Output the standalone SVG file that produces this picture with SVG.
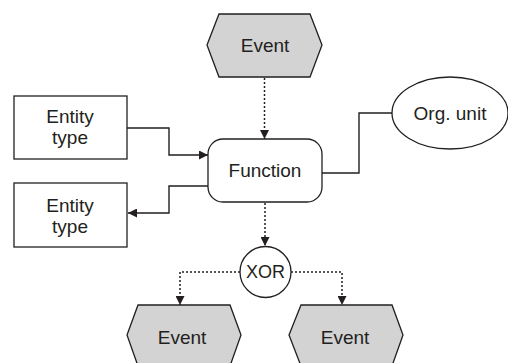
<svg xmlns="http://www.w3.org/2000/svg" width="508" height="363" viewBox="0 0 508 363">
<style>
.t{font-family:"Liberation Sans",Arial,sans-serif;font-size:19px;fill:#231f20;text-anchor:middle}
.ev{fill:#d3d3d3;stroke:#231f20;stroke-width:1.3}
.box{fill:#fff;stroke:#231f20;stroke-width:1.3}
.c{fill:none;stroke:#231f20;stroke-width:1.4}
.d{fill:none;stroke:#231f20;stroke-width:1.5;stroke-dasharray:2 2}
</style>
<defs>
<marker id="ah" viewBox="0 0 10 10" refX="10" refY="5" markerWidth="9" markerHeight="9" markerUnits="userSpaceOnUse" orient="auto">
<path d="M0,0 L10,5 L0,10 z" fill="#231f20"/>
</marker>
</defs>
<rect width="508" height="363" fill="#fff"/>
<g id="connectors">
<polyline class="c" points="127,128 169,128 169,155 208,155" marker-end="url(#ah)"/>
<polyline class="c" points="208,186 169,186 169,213 128,213" marker-end="url(#ah)"/>
<polyline class="c" points="322,173 359,173 359,113 392,113"/>
<line class="d" x1="264.5" y1="78" x2="264.5" y2="139" marker-end="url(#ah)"/>
<line class="d" x1="265" y1="203" x2="265" y2="246" marker-end="url(#ah)"/>
<polyline class="d" points="240,272 180,272 180,305" marker-end="url(#ah)"/>
<polyline class="d" points="291,272 342,272 342,305" marker-end="url(#ah)"/>
</g>
<g id="event-top">
<polygon class="ev" points="207,45 219,14 310,14 322,45 310,77 219,77"/>
<text class="t" x="265" y="52">Event</text>
</g>
<g id="entity-in">
<rect class="box" x="14" y="96" width="113" height="63"/>
<text class="t" x="70" y="123">Entity</text>
<text class="t" x="70" y="144">type</text>
</g>
<g id="entity-out">
<rect class="box" x="14" y="183" width="113" height="64"/>
<text class="t" x="70" y="212">Entity</text>
<text class="t" x="70" y="233">type</text>
</g>
<g id="function">
<rect class="box" x="208" y="139" width="114" height="63" rx="15" ry="15"/>
<text class="t" x="265" y="177">Function</text>
</g>
<g id="org-unit">
<ellipse class="box" cx="450" cy="113" rx="58" ry="36"/>
<text class="t" x="450" y="120">Org. unit</text>
</g>
<g id="xor">
<circle class="box" cx="265.5" cy="272" r="25.5"/>
<text class="t" x="265.5" y="278" style="font-size:18px">XOR</text>
</g>
<g id="event-left">
<polygon class="ev" points="127,335 138,305 230,305 241,335 230,366 138,366"/>
<text class="t" x="182" y="344">Event</text>
</g>
<g id="event-right">
<polygon class="ev" points="289,335 301,305 392,305 403,335 392,366 301,366"/>
<text class="t" x="345" y="344">Event</text>
</g>
</svg>
